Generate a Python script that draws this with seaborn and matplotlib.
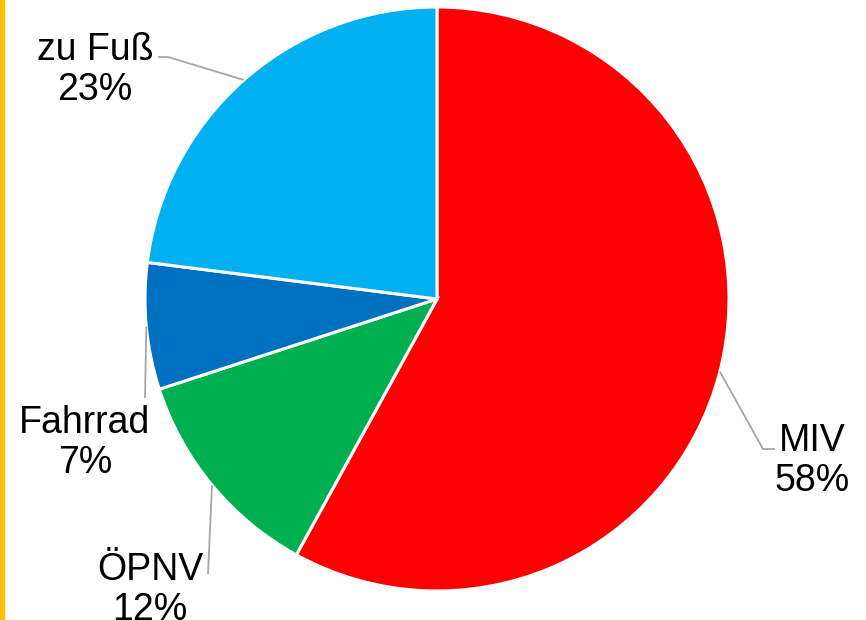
import numpy as np
import matplotlib
matplotlib.use("Agg")
import matplotlib.pyplot as plt
import seaborn as sns

# Modal split shares (percent), clockwise from 12 o'clock
categories = ["MIV", "ÖPNV", "Fahrrad", "zu Fuß"]
shares = [58, 12, 7, 23]
colors = ["#FF0000", "#00B050", "#0070C0", "#00B0F0"]

sns.set_theme(style="white")
plt.rcParams["font.family"] = ["Liberation Sans", "DejaVu Sans"]

W, H = 866, 620
fig = plt.figure(figsize=(W / 100, H / 100), dpi=100)
ax = fig.add_axes([0, 0, 1, 1])

# work in pixel-like units, y measured from the top
def py(y):
    return H - y

cx, cy, r = 437, 299, 292
wedges, _ = ax.pie(
    shares,
    colors=colors,
    startangle=90,
    counterclock=False,
    center=(cx, py(cy)),
    radius=r,
    wedgeprops=dict(edgecolor="white", linewidth=2.2),
)
ax.set_xlim(0, W)
ax.set_ylim(0, H)
ax.set_aspect("equal")
ax.axis("off")

# label layout: text centre and leader-line elbow points (top-down pixels)
label_pos = {
    "MIV": (812, 461),
    "ÖPNV": (150, 590),
    "Fahrrad": (85, 443),
    "zu Fuß": (95, 70),
}
leader_path = {
    "MIV": [(763, 449), (775, 449)],
    "ÖPNV": [(208, 574)],
    "Fahrrad": [(145, 398)],
    "zu Fuß": [(168, 57), (158, 57)],
}

for w, name, val in zip(wedges, categories, shares):
    mid = np.deg2rad((w.theta1 + w.theta2) / 2)
    x0 = cx + r * np.cos(mid)
    y0 = py(cy) + r * np.sin(mid)
    xs = [x0] + [p[0] for p in leader_path[name]]
    ys = [y0] + [py(p[1]) for p in leader_path[name]]
    ax.plot(xs, ys, color="#A6A6A6", lw=1.3, solid_capstyle="butt", zorder=3)
    tx, ty = label_pos[name]
    ax.text(tx, py(ty), f"{name}\n{val}%", ha="center", va="center",
            multialignment="center", fontsize=27, color="black",
            linespacing=1.12)

# accent bar along the left edge
fig.patches.append(plt.Rectangle((0, 0), 4 / W, 1, transform=fig.transFigure,
                                 color="#FFC000", zorder=5))

fig.savefig("out.png", dpi=100)
